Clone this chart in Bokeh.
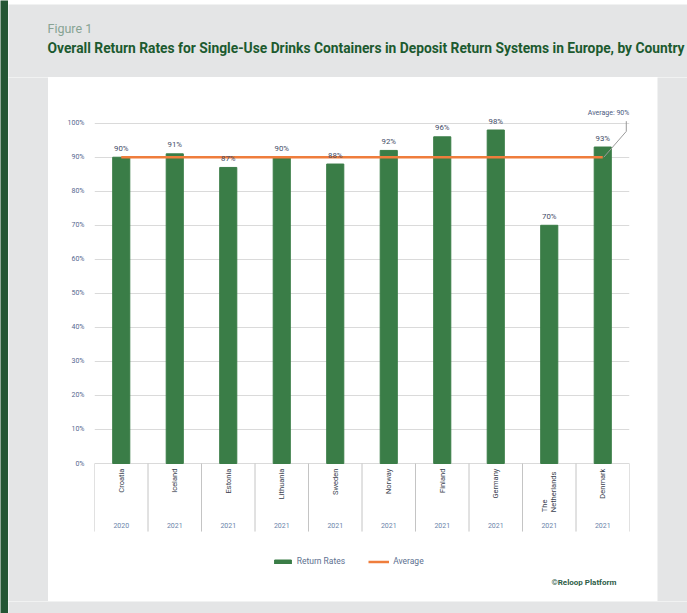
import math
from bokeh.plotting import figure
from bokeh.layouts import column, row
from bokeh.models import (ColumnDataSource, FactorRange, Range1d, FixedTicker,
                          PrintfTickFormatter, Legend, LegendItem)
from bokeh.transform import dodge
from bokeh.core.properties import value
from bokeh.embed import file_html
from bokeh.resources import INLINE

# ---------------- data ----------------
countries = ["Croatia", "Iceland", "Estonia", "Lithuania", "Sweden",
             "Norway", "Finland", "Germany", "The Netherlands", "Denmark"]
country_labels = ["Croatia", "Iceland", "Estonia", "Lithuania", "Sweden",
                  "Norway", "Finland", "Germany", "The\nNetherlands", "Denmark"]
years = ["2020", "2021", "2021", "2021", "2021",
         "2021", "2021", "2021", "2021", "2021"]
return_rates = [90, 91, 87, 90, 88, 92, 96, 98, 70, 93]
average_rate = 90
y_ticks = [0, 10, 20, 30, 40, 50, 60, 70, 80, 90, 100]

title_small = "Figure 1"
title_main = "Overall Return Rates for Single-Use Drinks Containers in Deposit Return Systems in Europe, by Country"
source_note = "\u00a9Reloop Platform"
legend_labels = ["Return Rates", "Average"]

# ---------------- styles ----------------
GREY = "#e4e5e6"
DARK = "#1f4d2d"
GREEN = "#3a7d47"
ORANGE = "#ef7d3c"
TXT = "#3f4b66"
FONT = value("Roboto")

EDGE_L, EDGE_T = 8, 4
LEFT_W, RIGHT_W = 40, 30
HEAD_H, FOOT_H = 73, 12
MAIN_W = 609
COPY_H = 29
MAIN_H = 495
INNER_W = LEFT_W + MAIN_W + RIGHT_W          # 679
TOTAL_H = EDGE_T + HEAD_H + MAIN_H + COPY_H + FOOT_H   # 613
Y_MIN, Y_MAX = -32.03, 113.43
SEP_BOTTOM = -20.0


def blank(w, h, color, px_ranges=False):
    xr = Range1d(0, w) if px_ranges else Range1d(0, 1)
    yr = Range1d(h, 0) if px_ranges else Range1d(0, 1)
    f = figure(width=w, height=h, output_backend="svg", toolbar_location=None,
               x_range=xr, y_range=yr,
               x_axis_location=None, y_axis_location=None,
               min_border=0, min_border_left=0, min_border_right=0,
               min_border_top=0, min_border_bottom=0)
    f.border_fill_color = color
    f.background_fill_color = color
    f.outline_line_color = None
    f.grid.visible = False
    return f


# ---------------- header ----------------
head = blank(INNER_W, HEAD_H, GREY, px_ranges=True)
head.text(x=[39], y=[24], text=[title_small], text_font=FONT,
          text_font_size="12.5px", text_color="#87a393", text_baseline="alphabetic")
head.text(x=[39], y=[43], text=[title_main], text_font=FONT,
          text_font_size="13.8px", text_font_style="bold", text_color="#1c5a2f",
          text_baseline="alphabetic")

# ---------------- main chart ----------------
p = figure(width=MAIN_W, height=MAIN_H, output_backend="svg", toolbar_location=None,
           x_range=FactorRange(*countries, range_padding=0),
           y_range=Range1d(Y_MIN, Y_MAX), x_axis_location=None,
           min_border_left=46, min_border_right=28,
           min_border_top=0, min_border_bottom=0)
p.border_fill_color = "white"
p.background_fill_color = "white"
p.outline_line_color = None

p.yaxis.ticker = FixedTicker(ticks=y_ticks)
p.yaxis.formatter = PrintfTickFormatter(format="%d%%")
p.yaxis.axis_line_color = None
p.yaxis.major_tick_line_color = None
p.yaxis.minor_tick_line_color = None
p.yaxis.major_label_text_font = "Roboto"
p.yaxis.major_label_text_font_size = "7px"
p.yaxis.major_label_text_color = "#56688f"
p.yaxis.major_label_standoff = 4
p.ygrid.ticker = FixedTicker(ticks=y_ticks)
p.ygrid.grid_line_color = "#dadada"
p.ygrid.grid_line_width = 1
p.xgrid.grid_line_color = None

src = ColumnDataSource(dict(country=countries, label=country_labels, year=years,
                            rate=return_rates,
                            rate_txt=[f"{v}%" for v in return_rates],
                            avg=[average_rate] * len(countries)))

# category box separators
p.segment(x0=dodge("country", -0.5, range=p.x_range), y0=0,
          x1=dodge("country", -0.5, range=p.x_range), y1=SEP_BOTTOM,
          source=src, line_color="#c4c4c4", line_width=1)
last = ColumnDataSource(dict(country=countries[-1:]))
p.segment(x0=dodge("country", 0.5, range=p.x_range), y0=0,
          x1=dodge("country", 0.5, range=p.x_range), y1=SEP_BOTTOM,
          source=last, line_color="#c4c4c4", line_width=1)

bars = p.vbar(x="country", top="rate", bottom=0, width=0.32, source=src,
              fill_color=GREEN, line_color=GREEN)
avg_line = p.line(x="country", y="avg", source=src, line_color=ORANGE, line_width=2.5)

p.text(x="country", y=dodge("rate", 1.3), text="rate_txt", source=src,
       text_align="center", text_baseline="bottom", text_font=FONT,
       text_font_size="7.8px", text_color=TXT)

# rotated category labels (single-line: end at top; multi-line: lines start-aligned)
single = [i for i, t in enumerate(country_labels) if "\n" not in t]
multi = [i for i, t in enumerate(country_labels) if "\n" in t]
src_single = ColumnDataSource(dict(country=[countries[i] for i in single],
                                   label=[country_labels[i] for i in single]))
src_multi = ColumnDataSource(dict(country=[countries[i] for i in multi],
                                  label=[country_labels[i] for i in multi]))
p.text(x="country", y=-1.5, text="label", source=src_single, angle=math.pi / 2,
       text_align="right", text_baseline="middle", text_font=FONT,
       text_font_size="7.5px", text_color="#3a3f4f")
p.text(x="country", y=-14.3, text="label", source=src_multi, angle=math.pi / 2,
       text_align="left", text_baseline="middle", text_font=FONT,
       text_font_size="7.5px", text_color="#3a3f4f", text_line_height=1.0)

p.text(x="country", y=-18.2, text="year", source=src,
       text_align="center", text_baseline="middle", text_font=FONT,
       text_font_size="7px", text_color="#6b84aa")

# average callout
last_c = countries[-1]
call = ColumnDataSource(dict(x=[(last_c, 0.02), (last_c, 0.44), (last_c, 0.44)],
                             y=[average_rate, average_rate + 7.6, 100.6]))
p.line(x="x", y="y", source=call, line_color="#9a9a9a", line_width=1)
p.text(x=[(last_c, 0.11)], y=[102.9], text=[f"Average: {average_rate}%"],
       text_align="center", text_baseline="middle", text_font=FONT,
       text_font_size="7px", text_color="#4a5a80")

legend = Legend(items=[LegendItem(label=legend_labels[0], renderers=[bars]),
                       LegendItem(label=legend_labels[1], renderers=[avg_line])],
                orientation="horizontal", location=(177.7, 6),
                padding=0, margin=0, spacing=23, label_standoff=4,
                glyph_width=21, glyph_height=5, label_height=10,
                label_text_font="Roboto", label_text_font_size="8.5px",
                label_text_color="#5d7090", border_line_color=None,
                background_fill_alpha=0)
p.add_layout(legend, "center")

# ---------------- copyright strip ----------------
copy_fig = blank(MAIN_W, COPY_H, "white", px_ranges=True)
copy_fig.text(x=[594], y=[10], text=[source_note], text_font=FONT,
              text_font_size="8px", text_font_style="bold", text_color="#2e5e48",
              text_align="right", text_baseline="middle")

left = blank(LEFT_W, MAIN_H + COPY_H, GREY)
right = blank(RIGHT_W, MAIN_H + COPY_H, GREY)
foot = blank(INNER_W, FOOT_H, GREY)
top_edge = blank(INNER_W, EDGE_T, DARK)
left_edge = blank(EDGE_L, TOTAL_H, "#245634")

inner = column(top_edge, head,
               row(left, column(p, copy_fig, spacing=0), right, spacing=0),
               foot, spacing=0)
layout = row(left_edge, inner, spacing=0)

open("out.html", "w").write(file_html(layout, INLINE))
